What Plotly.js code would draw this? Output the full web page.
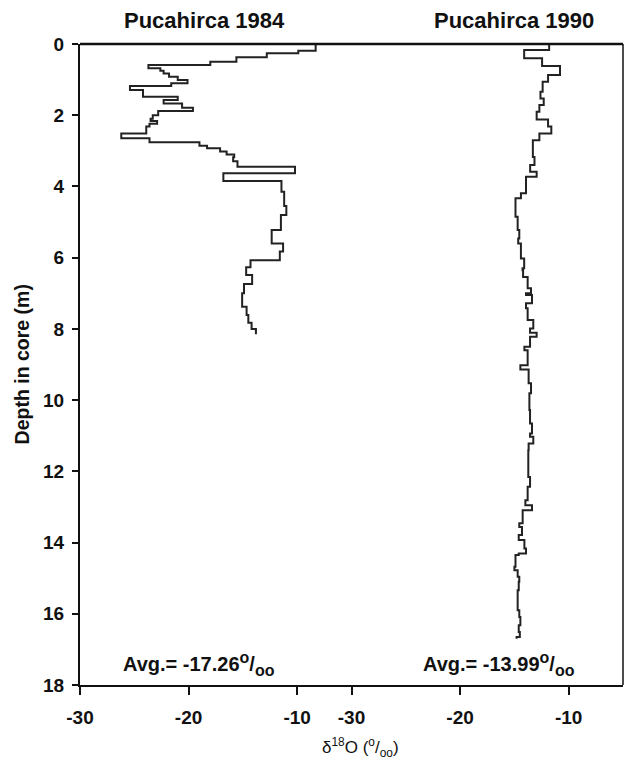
<!DOCTYPE html>
<html><head><meta charset="utf-8">
<script src="https://cdn.plot.ly/plotly-3.0.1.min.js"></script>
<style>html,body{margin:0;padding:0;background:#fff}</style>
</head><body><div id="chart" style="width:625px;height:762px"></div>
<script>
// Pucahirca 1984: layer top depths (m) and δ18O values (‰)
const depthTop1984 = [0.00,0.19,0.26,0.37,0.50,0.59,0.68,0.75,0.83,0.92,1.01,1.10,1.18,1.29,1.48,1.57,1.67,1.79,1.88,2.00,2.10,2.16,2.24,2.32,2.51,2.65,2.76,2.86,2.93,3.02,3.10,3.18,3.29,3.45,3.63,3.85,4.15,4.55,4.80,5.22,5.60,5.83,6.07,6.27,6.49,6.74,7.00,7.38,7.61,7.83,8.00];
const d18O1984 = [-8.3,-9.9,-12.8,-15.6,-18.0,-23.7,-22.6,-22.3,-21.8,-21.0,-20.1,-21.6,-25.4,-24.2,-21.0,-22.3,-20.6,-19.6,-22.8,-23.3,-23.5,-22.9,-23.6,-23.9,-26.2,-23.6,-19.0,-18.3,-17.1,-16.5,-15.8,-15.9,-15.5,-10.2,-16.8,-11.45,-11.2,-11.0,-11.5,-12.35,-11.3,-11.6,-14.3,-14.7,-14.15,-14.9,-15.07,-14.66,-14.5,-14.2,-13.8];
const depthBottom1984 = 8.15;

// Pucahirca 1990
const depthTop1990 = [0.00,0.17,0.40,0.62,0.87,1.06,1.34,1.53,1.71,1.90,2.12,2.32,2.51,2.70,3.17,3.40,3.59,3.73,4.19,4.33,4.85,5.22,5.46,5.60,6.02,6.30,6.35,6.54,6.86,7.00,7.05,7.28,7.42,7.75,7.99,8.11,8.22,8.50,8.60,9.02,9.14,9.53,9.81,10.28,10.66,10.94,11.03,11.22,11.41,12.16,12.43,12.81,12.95,13.09,13.14,13.46,13.56,13.79,13.93,14.17,14.31,14.35,14.68,14.78,14.96,15.10,15.34,15.90,16.09,16.32,16.51,16.65];
const d18O1990 = [-11.8,-14.1,-12.45,-10.8,-11.9,-12.4,-12.6,-12.3,-12.7,-12.95,-11.9,-11.6,-12.7,-13.3,-13.15,-13.55,-12.95,-13.93,-14.4,-14.9,-14.7,-14.55,-14.65,-14.4,-14.1,-14.25,-14.2,-13.78,-13.47,-13.93,-13.38,-13.93,-13.78,-13.26,-13.56,-12.95,-13.56,-14.08,-13.78,-14.45,-13.69,-13.47,-13.62,-13.56,-13.38,-13.56,-13.26,-13.69,-13.72,-13.56,-13.78,-13.99,-13.38,-14.24,-14.24,-14.55,-14.3,-14.6,-14.08,-13.93,-14.6,-14.9,-15.0,-14.7,-14.55,-14.6,-14.7,-14.55,-14.45,-14.6,-14.5,-14.8];
const depthBottom1990 = 16.70;

const panelTitles = ['Pucahirca 1984', 'Pucahirca 1990'];
const avgValues = ['-17.26', '-13.99'];
const xTickVals = [-30, -20, -10];
const xTickText = ['-30', '-20', '-10'];
const yTickVals = [0, 2, 4, 6, 8, 10, 12, 14, 16, 18];

const FONT = 'Liberation Sans, Arial, sans-serif';
const LINE = '#222';

function avgLabel(v) {
  return 'Avg.= ' + v + '<sup><span style="font-size:16px">o</span></sup>/<sub><span style="font-size:16px">oo</span></sub>';
}

function stepTrace(tops, vals, bottom, xa) {
  return {
    type: 'scatter', mode: 'lines', xaxis: xa, yaxis: 'y',
    x: vals.concat([vals[vals.length - 1]]),
    y: tops.concat([bottom]),
    line: {shape: 'vh', color: LINE, width: 2},
    hoverinfo: 'skip', showlegend: false
  };
}

const data = [
  stepTrace(depthTop1984, d18O1984, depthBottom1984, 'x'),
  stepTrace(depthTop1990, d18O1990, depthBottom1990, 'x2')
];

const xBase = {
  range: [-30, -5], autorange: false, showgrid: false, zeroline: false,
  showline: true, linecolor: '#111', linewidth: 2,
  ticks: 'outside', ticklen: 8, tickwidth: 2, tickcolor: '#111',
  tickvals: xTickVals, ticktext: xTickText, ticklabelstandoff: 6,
  tickfont: {family: FONT, size: 19, color: '#111', weight: 'bold'},
  anchor: 'y', fixedrange: true
};

const layout = {
  width: 625, height: 762,
  margin: {l: 80, r: 2, t: 44, b: 77},
  paper_bgcolor: '#fff', plot_bgcolor: '#fff',
  showlegend: false,
  xaxis: Object.assign({}, xBase, {domain: [0, 0.5]}),
  xaxis2: Object.assign({}, xBase, {domain: [0.5, 1]}),
  yaxis: {
    range: [18, 0], autorange: false, showgrid: false, zeroline: false,
    showline: true, linecolor: '#111', linewidth: 2,
    ticks: 'outside', ticklen: 6, tickwidth: 2, tickcolor: '#111',
    tickvals: yTickVals, ticklabelstandoff: 4,
    tickfont: {family: FONT, size: 19, color: '#111', weight: 'bold'},
    fixedrange: true
  },
  shapes: [
    {type: 'line', xref: 'paper', yref: 'paper', x0: 0, x1: 1, y0: 1, y1: 1, line: {color: '#111', width: 2.5}},
    {type: 'line', xref: 'paper', yref: 'paper', x0: 1, x1: 1, y0: 0, y1: 1, line: {color: '#111', width: 1.5}}
  ],
  annotations: [
    {text: panelTitles[0], xref: 'x', yref: 'paper', x: -18.5, y: 1.036, xanchor: 'center', yanchor: 'middle', showarrow: false,
     font: {family: FONT, size: 22, color: '#111', weight: 'bold'}},
    {text: panelTitles[1], xref: 'x2', yref: 'paper', x: -15.0, y: 1.036, xanchor: 'center', yanchor: 'middle', showarrow: false,
     font: {family: FONT, size: 22, color: '#111', weight: 'bold'}},
    {text: avgLabel(avgValues[0]), xref: 'x', yref: 'y', x: -26.2, y: 17.4, xanchor: 'left', yanchor: 'middle', showarrow: false,
     font: {family: FONT, size: 20, color: '#111', weight: 'bold'}},
    {text: avgLabel(avgValues[1]), xref: 'x2', yref: 'y', x: -23.6, y: 17.4, xanchor: 'left', yanchor: 'middle', showarrow: false,
     font: {family: FONT, size: 20, color: '#111', weight: 'bold'}},
    {text: 'δ<sup>18</sup>O (<sup>o</sup>/<sub>oo</sub>)', xref: 'paper', yref: 'paper', x: 0.516, y: -0.098, xanchor: 'center', yanchor: 'middle', showarrow: false,
     font: {family: FONT, size: 17, color: '#111'}},
    {text: 'Depth in core (m)', xref: 'paper', yref: 'paper', x: -0.107, y: 0.5, xanchor: 'center', yanchor: 'middle', textangle: -90, showarrow: false,
     font: {family: FONT, size: 19.5, color: '#111', weight: 'bold'}}
  ]
};

Plotly.newPlot('chart', data, layout, {staticPlot: true, displayModeBar: false});
</script>
</body></html>
